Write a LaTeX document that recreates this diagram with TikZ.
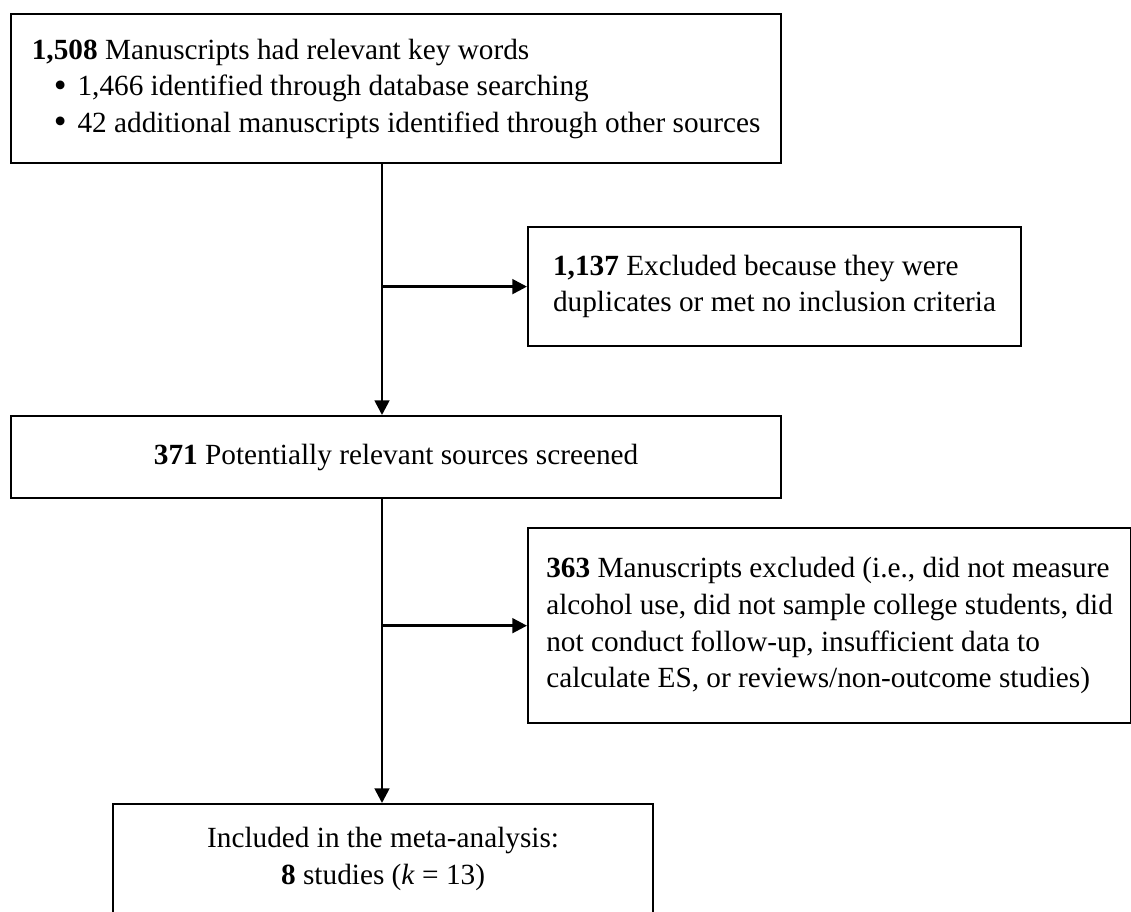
\documentclass[tikz,border=0pt]{standalone}
\usepackage{fontspec}
\setmainfont{Liberation Serif}
\usetikzlibrary{arrows.meta, positioning}

\newcommand{\itembullet}{\hspace*{9pt}\raisebox{-0.7pt}{\fontsize{15}{15}\selectfont\textbullet}\hspace{4.5pt}}

\begin{document}
\begin{tikzpicture}[x=0.41pt, y=-0.41pt, font=\fontsize{12}{15}\selectfont]

        % Setup the styles for the boxes and the lines
        \tikzset{box style/.style={draw, rectangle,
                                   line width=0.9pt,
                                   anchor=north west,
                                   inner sep=0pt},
                 flow style/.style={line width=1.1pt,
                                    -{Triangle[length=6pt, width=6pt]}}}

        % Page frame
        \useasboundingbox (0, 0) rectangle (1131, 911);
        \clip (0, 0) rectangle (1131, 911);

        % Draw the boxes
        \node[box style, align=left, minimum width=315.7pt, minimum height=61.1pt] at (10, 13) (found)
            {\textbf{1,508} Manuscripts had relevant key words\\
             \itembullet 1,466 identified through database searching\\
             \itembullet 42 additional manuscripts identified through other sources};
        \node[box style, align=left, minimum width=202.1pt, minimum height=48.8pt] at (527, 226) (dupes)
            {\textbf{1,137} Excluded because they were\\
             duplicates or met no inclusion criteria};
        \node[box style, align=center, minimum width=315.7pt, minimum height=33.6pt] at (10, 415) (screened)
            {\textbf{371} Potentially relevant sources screened};
        \node[box style, align=left, minimum width=247.2pt, minimum height=80pt] at (527, 527) (excluded)
            {\textbf{363} Manuscripts excluded (i.e., did not measure\\
             alcohol use, did not sample college students, did\\
             not conduct follow-up, insufficient data to\\
             calculate ES, or reviews/non-outcome studies)};
        \node[box style, align=center, minimum width=221.4pt, minimum height=45.1pt] at (112, 803) (included)
            {Included in the meta-analysis:\\
             \textbf{8} studies (\textit{k} = 13)};

        % Connect the boxes with arrows
        \coordinate (trunk) at (382, 0);
        \draw[flow style] (found.south -| trunk)    -- (screened.north -| trunk);
        \draw[flow style] (dupes.west -| trunk)     -- (dupes.west);
        \draw[flow style] (screened.south -| trunk) -- (included.north -| trunk);
        \draw[flow style] (excluded.west -| trunk)  -- (excluded.west);
    \end{tikzpicture}
\end{document}
